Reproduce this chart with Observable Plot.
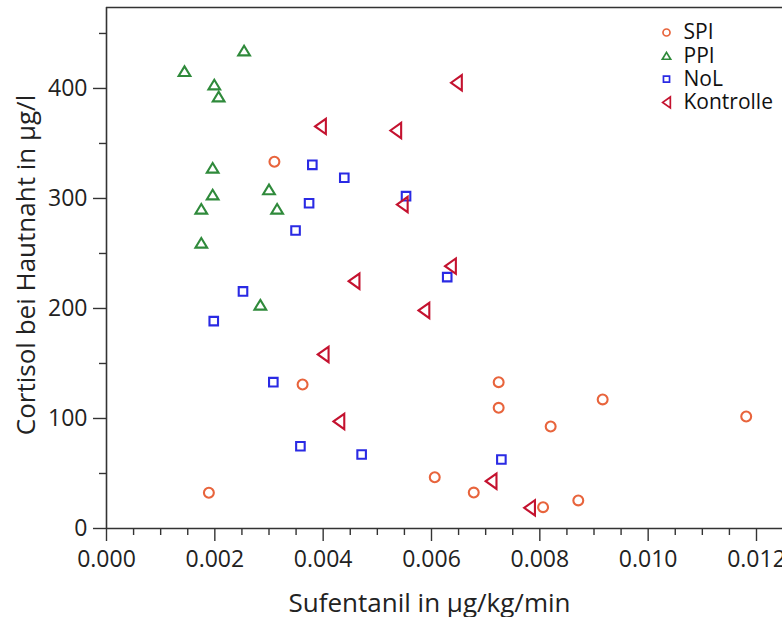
<!DOCTYPE html>
<html>
<head>
<meta charset="utf-8">
<script src="https://cdn.jsdelivr.net/npm/d3@7"></script>
<script src="https://cdn.jsdelivr.net/npm/@observablehq/plot@0.6"></script>
<style>
  body { margin: 0; background: #fff; }
  #chart svg { display: block; }
</style>
</head>
<body>
<div id="chart"></div>
<script>
// ---- data ----
const groups = ["SPI", "PPI", "NoL", "Kontrolle"];
const colors = ["#e8643c", "#2f8a3b", "#2a2ae4", "#c4122f"];

const spiX = [0.00189, 0.00310, 0.00362, 0.00606, 0.00678, 0.00724, 0.00724, 0.00820, 0.00806, 0.00871, 0.00916, 0.01181];
const spiY = [32.5, 333.4, 130.9, 46.6, 32.7, 133.0, 109.7, 92.7, 19.4, 25.5, 117.3, 101.8];

const ppiX = [0.00254, 0.00144, 0.00199, 0.00207, 0.00196, 0.00196, 0.00175, 0.00175, 0.00300, 0.00315, 0.00284];
const ppiY = [434.5, 415.7, 403.6, 392.7, 327.9, 303.6, 290.6, 259.7, 308.2, 290.6, 203.4];

const nolX = [0.00380, 0.00439, 0.00374, 0.00349, 0.00252, 0.00198, 0.00553, 0.00629, 0.00308, 0.00358, 0.00471, 0.00729];
const nolY = [330.6, 318.8, 295.7, 270.9, 215.5, 188.5, 302.1, 228.5, 133.0, 74.8, 67.3, 62.7];

const konX = [0.00646, 0.00395, 0.00534, 0.00546, 0.00635, 0.00457, 0.00586, 0.00400, 0.00429, 0.00710, 0.00781];
const konY = [405.2, 365.5, 361.8, 294.5, 238.5, 224.8, 198.2, 158.2, 97.3, 43.0, 18.8];

const xMajor = [0, 0.002, 0.004, 0.006, 0.008, 0.010, 0.012];
const xMinor = [0.0005, 0.001, 0.0015, 0.0025, 0.003, 0.0035, 0.0045, 0.005, 0.0055, 0.0065, 0.007, 0.0075, 0.0085, 0.009, 0.0095, 0.0105, 0.011, 0.0115];
const yMajor = [0, 100, 200, 300, 400];
const yMinor = [50, 150, 250, 350, 450];

const xTitle = "Sufentanil in µg/kg/min";
const yTitle = "Cortisol bei Hautnaht in µg/l";

// ---- symbols ----
function mk(fn) { return { draw(ctx, size) { fn(ctx, Math.sqrt(size / Math.PI)); } }; }
const symbols = {
  SPI: mk((c, r) => { c.moveTo(1.1 * r, 0); c.arc(0, 0, 1.1 * r, 0, 2 * Math.PI); }),
  PPI: mk((c, r) => { c.moveTo(0, -1.075 * r); c.lineTo(1.3 * r, 1.075 * r); c.lineTo(-1.3 * r, 1.075 * r); c.closePath(); }),
  NoL: mk((c, r) => { c.rect(-0.95 * r, -0.95 * r, 1.9 * r, 1.9 * r); }),
  Kontrolle: mk((c, r) => { c.moveTo(-1.2 * r, 0); c.lineTo(1.2 * r, -1.7 * r); c.lineTo(1.2 * r, 1.7 * r); c.closePath(); })
};

const series = [
  { name: "SPI", x: spiX, y: spiY },
  { name: "PPI", x: ppiX, y: ppiY },
  { name: "NoL", x: nolX, y: nolY },
  { name: "Kontrolle", x: konX, y: konY }
];

const axisColor = "#333";
const font = "'Open Sans', sans-serif";

const dataMarks = series.map((s, i) =>
  Plot.dot(d3.range(s.x.length), {
    x: j => s.x[j], y: j => s.y[j],
    symbol: symbols[s.name], r: 4.5,
    stroke: colors[i], strokeWidth: 2.1, fill: "none"
  })
);

const legendMarks = groups.flatMap((g, i) => [
  Plot.dot([g], {
    frameAnchor: "top-left", dx: 560, dy: 25 + i * 23.3,
    symbol: symbols[g], r: 3.2, stroke: colors[i], strokeWidth: 1.7, fill: "none"
  }),
  Plot.text([g], {
    text: d => d, frameAnchor: "top-left", dx: 577, dy: 25 + i * 23.3,
    textAnchor: "start", lineAnchor: "middle", fontSize: 21, lineHeight: 1, fill: "#111"
  })
]);

const chart = Plot.plot({
  width: 782,
  height: 617,
  marginTop: 7,
  marginLeft: 106,
  marginRight: 0,
  marginBottom: 89,
  style: { fontFamily: font, color: "#222", background: "#fff", overflow: "visible" },
  x: { domain: [0, 0.01248], label: null },
  y: { domain: [0, 473.6], label: null },
  marks: [
    Plot.axisX({ ticks: xMajor, tickSize: 13, tickPadding: 9, tickFormat: d3.format(".3f"), fontSize: 23, label: null, stroke: axisColor, strokeWidth: 1.4 }),
    Plot.axisX({ ticks: xMinor, tickSize: 7, tickFormat: () => "", label: null, stroke: axisColor, strokeWidth: 1.4 }),
    Plot.axisY({ ticks: yMajor, tickSize: 13, tickPadding: 6, tickFormat: d => String(d), fontSize: 23, label: null, stroke: axisColor, strokeWidth: 1.4 }),
    Plot.axisY({ ticks: yMinor, tickSize: 7, tickFormat: () => "", label: null, stroke: axisColor, strokeWidth: 1.4 }),
    Plot.ruleX([0], { stroke: axisColor, strokeWidth: 1.6 }),
    Plot.ruleY([0], { stroke: axisColor, strokeWidth: 1.6 }),
    Plot.ruleY([473.6], { stroke: axisColor, strokeWidth: 1.6 }),
    ...dataMarks,
    ...legendMarks,
    Plot.text([xTitle], { text: d => d, frameAnchor: "bottom", dx: -15, dy: 75, fontSize: 26, textAnchor: "middle", lineAnchor: "middle", fill: "#222" }),
    Plot.text([yTitle], { text: d => d, frameAnchor: "left", dx: -80, dy: -3, rotate: -90, fontSize: 26, textAnchor: "middle", lineAnchor: "middle", fill: "#222" })
  ]
});

document.getElementById("chart").appendChild(chart);
</script>
</body>
</html>
